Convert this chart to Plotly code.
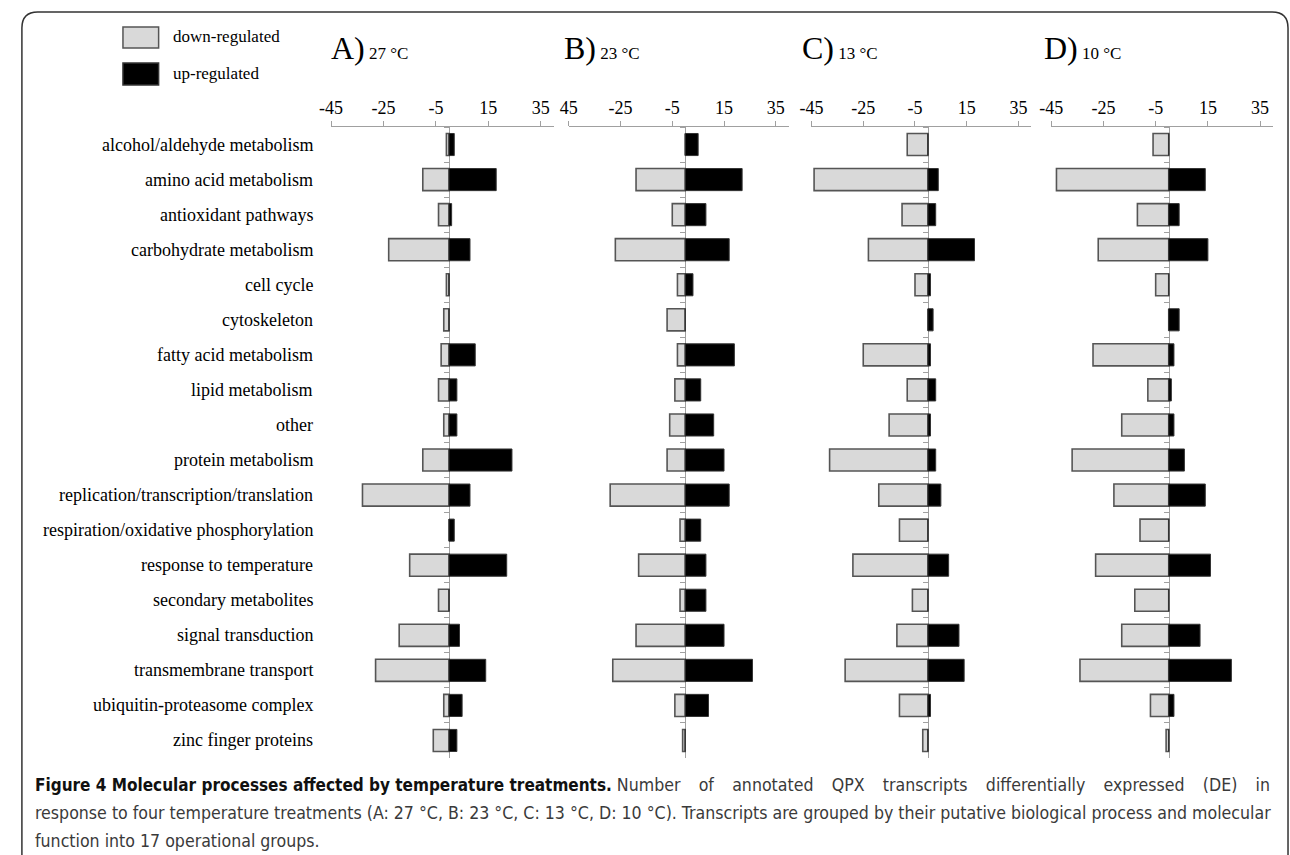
import plotly.graph_objects as go

W, H = 1290, 855

categories = [
    "alcohol/aldehyde metabolism", "amino acid metabolism", "antioxidant pathways",
    "carbohydrate metabolism", "cell cycle", "cytoskeleton", "fatty acid metabolism",
    "lipid metabolism", "other", "protein metabolism",
    "replication/transcription/translation", "respiration/oxidative phosphorylation",
    "response to temperature", "secondary metabolites", "signal transduction",
    "transmembrane transport", "ubiquitin-proteasome complex", "zinc finger proteins",
]

panel_titles = ["A)", "B)", "C)", "D)"]
panel_temps = ["27 °C", "23 °C", "13 °C", "10 °C"]

tick_vals = [-45, -25, -5, 15, 35]
tick_text_A = ["-45", "-25", "-5", "15", "35"]
tick_text_B = ["45", "-25", "-5", "15", "35"]
tick_text_C = ["-45", "-25", "-5", "15", "35"]
tick_text_D = ["-45", "-25", "-5", "15", "35"]

A_down = [-1, -10, -4, -23, -1, -2, -3, -4, -2, -10, -33, 0, -15, -4, -19, -28, -2, -6]
A_up = [2, 18, 1, 8, 0, 0, 10, 3, 3, 24, 8, 2, 22, 0, 4, 14, 5, 3]
B_down = [0, -19, -5, -27, -3, -7, -3, -4, -6, -7, -29, -2, -18, -2, -19, -28, -4, -1]
B_up = [5, 22, 8, 17, 3, 0, 19, 6, 11, 15, 17, 6, 8, 8, 15, 26, 9, 0]
C_down = [-8, -44, -10, -23, -5, 0, -25, -8, -15, -38, -19, -11, -29, -6, -12, -32, -11, -2]
C_up = [0, 4, 3, 18, 1, 2, 1, 3, 1, 3, 5, 0, 8, 0, 12, 14, 1, 0]
D_down = [-6, -43, -12, -27, -5, 0, -29, -8, -18, -37, -21, -11, -28, -13, -18, -34, -7, -1]
D_up = [0, 14, 4, 15, 0, 4, 2, 1, 2, 6, 14, 0, 16, 0, 12, 24, 2, 0]

legend_labels = ["down-regulated", "up-regulated"]

caption_bold = "Figure 4 Molecular processes affected by temperature treatments."
caption_lines = [
    "Number of annotated QPX transcripts differentially expressed (DE) in",
    "response to four temperature treatments (A: 27 °C, B: 23 °C, C: 13 °C, D: 10 °C). Transcripts are grouped by their putative biological process and molecular",
    "function into 17 operational groups.",
]

downs = [A_down, B_down, C_down, D_down]
ups = [A_up, B_up, C_up, D_up]
tick_texts = [tick_text_A, tick_text_B, tick_text_C, tick_text_D]

# layout geometry (pixels)
XMIN, XMAX = -45, 40
panel_px = [(322, 547), (562, 784), (807, 1029), (1049, 1273)]
title_px = [320, 555, 795, 1040]
y_top_px, y_bot_px = 127, 758

SERIF = "Liberation Serif, Times New Roman, serif"
CAPFONT = "DejaVu Sans Condensed, Liberation Sans Narrow, Noto Sans, sans-serif"
DOWN_FILL, DOWN_LINE = "#d9d9d9", "#555555"
UP_FILL, UP_LINE = "#000000", "#333333"
AXIS_COL = "#a0a0a0"


def px(x):
    return x / W


def py(y):
    return 1 - y / H


fig = go.Figure()
ydom = [py(y_bot_px), py(y_top_px)]

for i in range(4):
    n = i + 1
    xa = "x" if n == 1 else f"x{n}"
    ya = "y" if n == 1 else f"y{n}"
    fig.add_trace(go.Bar(
        y=categories, x=downs[i], orientation="h", xaxis=xa, yaxis=ya,
        marker=dict(color=DOWN_FILL, line=dict(color=DOWN_LINE, width=1.6)),
        name=legend_labels[0], showlegend=False, hoverinfo="x+y",
    ))
    fig.add_trace(go.Bar(
        y=categories, x=ups[i], orientation="h", xaxis=xa, yaxis=ya,
        marker=dict(color=UP_FILL, line=dict(color=UP_LINE, width=1)),
        name=legend_labels[1], showlegend=False, hoverinfo="x+y",
    ))
    a, b = panel_px[i]
    zero_pos = px(a + (0 - XMIN) / (XMAX - XMIN) * (b - a))
    fig.layout[f"xaxis{'' if n == 1 else n}"] = dict(
        domain=[px(a), px(b)], range=[XMIN, XMAX], side="top", anchor=ya,
        tickvals=tick_vals, ticktext=tick_texts[i], ticks="outside", ticklen=5,
        tickcolor=AXIS_COL, showline=True, linecolor=AXIS_COL, linewidth=1,
        showgrid=False, zeroline=False, tickfont=dict(family=SERIF, size=18, color="black"),
        fixedrange=True,
    )
    ydict = dict(
        domain=ydom, type="category", categoryorder="array", categoryarray=categories,
        range=[len(categories) - 0.5, -0.5], anchor="free", position=zero_pos,
        showline=True, linecolor=AXIS_COL, linewidth=1, ticks="outside",
        tickson="boundaries", ticklen=5, tickcolor=AXIS_COL, showticklabels=False,
        showgrid=False, zeroline=False, layer="below traces", fixedrange=True,
    )
    if n > 1:
        ydict["matches"] = "y"
    fig.layout[f"yaxis{'' if n == 1 else n}"] = ydict

    fig.add_annotation(
        x=px(title_px[i]), y=py(48), xref="paper", yref="paper", xanchor="left",
        yanchor="middle", showarrow=False,
        text=f"<span style='font-size:32px'>{panel_titles[i]}</span> {panel_temps[i]}",
        font=dict(family=SERIF, size=17, color="black"),
    )

# category labels
for c in categories:
    fig.add_annotation(
        x=px(306), y=c, xref="paper", yref="y", xanchor="right", yanchor="middle",
        showarrow=False, text=c, font=dict(family=SERIF, size=18, color="black"),
    )

# legend boxes
shapes = []
leg_y = [(27, 48), (63, 85)]
leg_fill = [(DOWN_FILL, DOWN_LINE), (UP_FILL, UP_LINE)]
for k in range(2):
    y0, y1 = leg_y[k]
    shapes.append(dict(type="rect", xref="paper", yref="paper", x0=px(112), x1=px(148),
                       y0=py(y1), y1=py(y0), fillcolor=leg_fill[k][0],
                       line=dict(color=leg_fill[k][1], width=1.5)))
    fig.add_annotation(x=px(160), y=py((y0 + y1) / 2 - 1), xref="paper", yref="paper",
                       xanchor="left", yanchor="middle", showarrow=False,
                       text=legend_labels[k], font=dict(family=SERIF, size=17, color="black"))

# frame with rounded top corners
def P(x, y):
    return f"{px(x):.5f},{py(y):.5f}"

r = 16
frame = (f"M {P(10, 870)} L {P(10, 12 + r)} Q {P(10, 12)} {P(10 + r, 12)} "
         f"L {P(1288 - r, 12)} Q {P(1288, 12)} {P(1288, 12 + r)} L {P(1288, 870)}")
shapes.append(dict(type="path", xref="paper", yref="paper", path=frame,
                   line=dict(color="#333333", width=1.5)))

fig.update_layout(shapes=shapes)

# caption, one annotation per line (first line justified by wider word gaps)
gap = "&nbsp;&nbsp;\u2009 "
line1 = (f"<span style='font-size:17px'><b style='color:#111'>{caption_bold}</b></span> "
         + caption_lines[0].replace(" ", gap))
cap_texts = [line1, caption_lines[1], caption_lines[2]]
cap_y = [785, 813, 841]
for t, yy in zip(cap_texts, cap_y):
    fig.add_annotation(
        x=px(21), y=py(yy), xref="paper", yref="paper", xanchor="left", yanchor="middle",
        showarrow=False, align="left", text=t,
        font=dict(family=CAPFONT, size=17.6, color="#3a3a3a"),
    )

fig.update_layout(
    width=W, height=H, margin=dict(l=0, r=0, t=0, b=0),
    paper_bgcolor="white", plot_bgcolor="white",
    barmode="relative", bargap=0.37, showlegend=False,
)

fig.write_html(
    "out.html",
    config={"displayModeBar": False},
    post_script="document.body.style.margin='0';document.body.style.overflow='hidden';",
)
